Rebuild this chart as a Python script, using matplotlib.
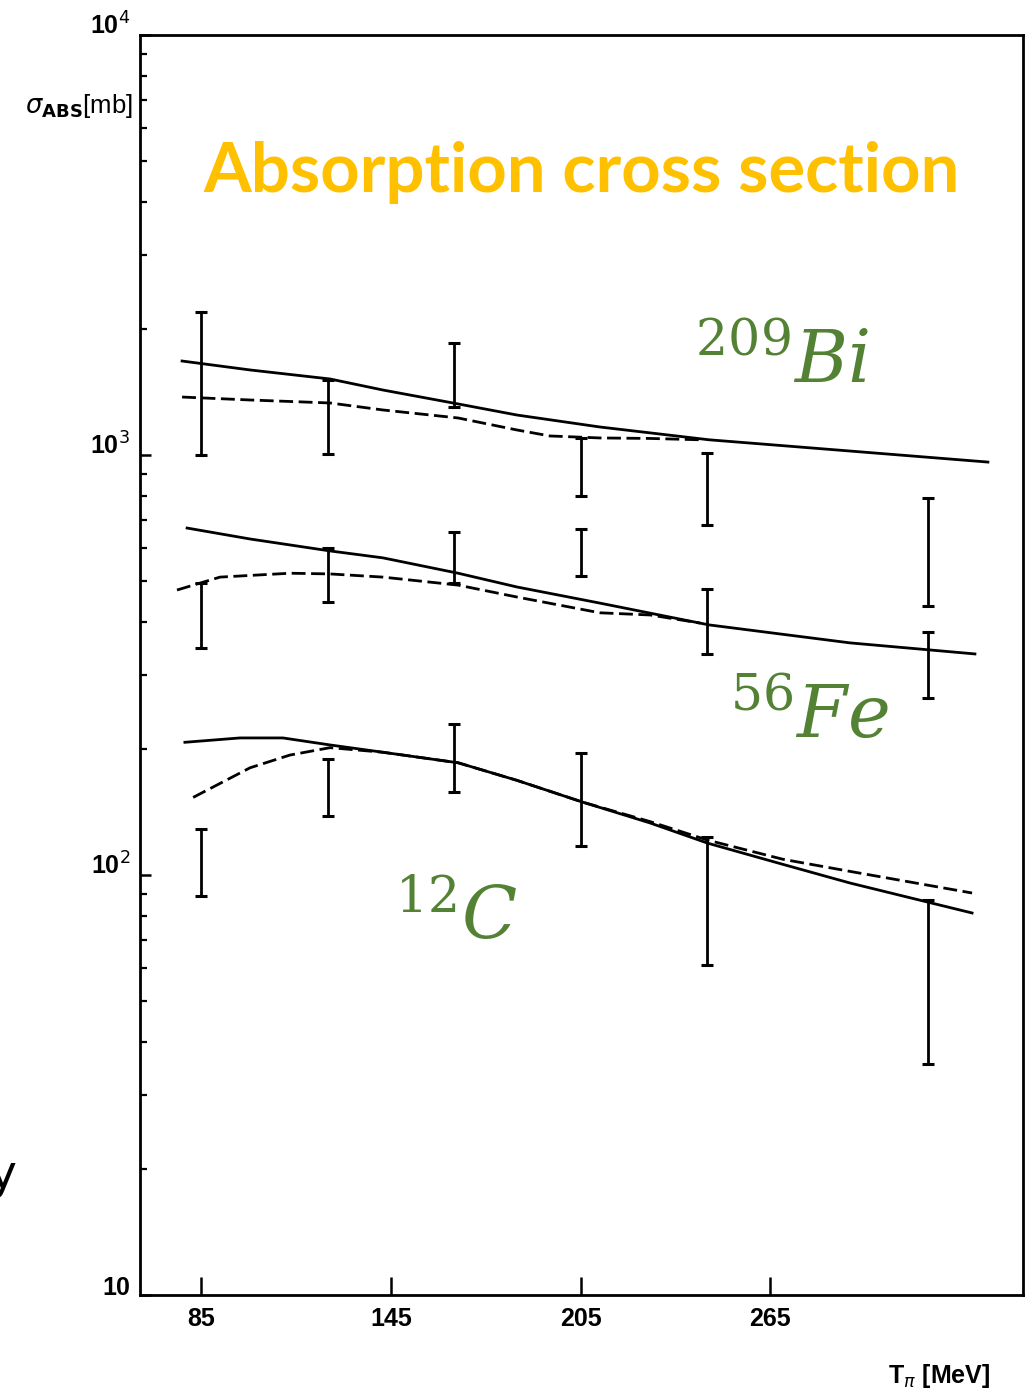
import matplotlib
matplotlib.use("Agg")

import matplotlib.pyplot as plt
import numpy as np

# Pion absorption cross sections (mb) vs. pion kinetic energy (MeV)
energies = [85, 125, 165, 205, 245, 315]

bi_hi = [2190, 1510, 1850, 1100, 1010, 790]
bi_lo = [1000, 1005, 1300, 800, 680, 437]
fe_hi = [495, 600, 655, 667, 480, 379]
fe_lo = [347, 447, 495, 515, 336, 264]
c_hi = [129, 189, 229, 195, 123, 87]
c_lo = [89, 138, 158, 117, 61, 35.5]

# Model curves (solid = full calculation, dashed = alternative)
bi_fit_x = [79, 100.5, 125.8, 142.5, 166.3, 184.9, 211.1, 245.6, 290.2, 333.8]
bi_fit = [1674, 1594, 1517, 1428, 1323, 1245, 1166, 1087, 1022, 962]
bi_dash_x = [79, 100.5, 125.8, 142.5, 166.3, 184.9, 195.3, 211.1, 227.0, 242.8]
bi_dash = [1374, 1352, 1330, 1280, 1225, 1147, 1110, 1098, 1095, 1087]

fe_fit_x = [80.6, 100.5, 125.8, 142.5, 166.3, 184.9, 211.1, 245.6, 290.2, 329.7]
fe_fit = [670, 631, 591, 569, 523, 485, 444, 394, 357, 336]
fe_dash_x = [77.4, 91.0, 113.1, 125.8, 142.5, 166.3, 184.9, 211.1, 227.0, 242.8]
fe_dash = [477, 512, 523, 521, 512, 490, 459, 421, 416, 398]

c_fit_x = [79.9, 97.3, 110.9, 125.8, 142.5, 166.3, 184.9, 205.8, 227.0, 245.3,
           269.0, 290.2, 328.8]
c_fit = [207, 212, 212, 204, 196, 185, 168, 149, 133, 119, 106, 95.7, 81.2]
c_dash_x = [82.5, 100.5, 113.1, 125.8, 142.5, 166.3, 184.9, 205.8, 227.0, 245.3,
            269.0, 290.2, 328.8]
c_dash = [153, 180, 193, 201, 196, 185, 168, 149, 134, 121, 109, 102, 90.6]

x_ticks = [85, 145, 205, 265]
y_ticks = [10, 100, 1000, 10000]
y_tick_labels = ["10", "10$^2$", "10$^3$", "10$^4$"]

W, H = 1035, 1389
fig = plt.figure(figsize=(W / 100, H / 100), dpi=100)
ax = fig.add_axes([140 / W, 1 - 1295 / H, 883 / W, 1260 / H])

ax.set_yscale("log")
ax.set_xlim(65.7, 344.9)
ax.set_ylim(10, 10000)

lw = 2.0
for fx, fy, dx, dy in [
    (bi_fit_x, bi_fit, bi_dash_x, bi_dash),
    (fe_fit_x, fe_fit, fe_dash_x, fe_dash),
    (c_fit_x, c_fit, c_dash_x, c_dash),
]:
    ax.plot(fx, fy, color="black", lw=lw, solid_joinstyle="round")
    ax.plot(dx, dy, color="black", lw=lw, linestyle=(0, (5, 2)))

for lo, hi in [(bi_lo, bi_hi), (fe_lo, fe_hi), (c_lo, c_hi)]:
    lo = np.array(lo, dtype=float)
    hi = np.array(hi, dtype=float)
    mid = np.sqrt(lo * hi)
    ax.errorbar(energies, mid, yerr=[mid - lo, hi - mid], fmt="none",
                ecolor="black", elinewidth=2.0, capsize=4.5, capthick=2.2)

# Axes frame and ticks
for side in ["left", "right", "top", "bottom"]:
    ax.spines[side].set_linewidth(2.0)
ax.set_xticks(x_ticks)
ax.set_xticklabels([str(v) for v in x_ticks], fontsize=18, weight="bold",
                   family="Liberation Sans")
ax.tick_params(axis="x", direction="in", length=13, width=1.8, pad=9)
ax.set_yticks(y_ticks)
ax.set_yticklabels(y_tick_labels, fontsize=18, weight="bold",
                   family="Liberation Sans")
ax.yaxis.set_minor_locator(matplotlib.ticker.LogLocator(base=10, subs=np.arange(2, 10)))
ax.yaxis.set_minor_formatter(matplotlib.ticker.NullFormatter())
ax.tick_params(axis="y", which="major", direction="in", length=8, width=1.8, pad=7)
ax.tick_params(axis="y", which="minor", direction="in", length=5, width=1.6)
for lbl in ax.get_yticklabels():
    lbl.set_verticalalignment("baseline")

# Axis labels
fig.text(25 / W, 1 - 113 / H, r"$\sigma_{\mathbf{ABS}}$[mb]", fontsize=18.5,
         family="Liberation Sans", ha="left", va="baseline")
fig.text(990 / W, 1 - 1383 / H, r"T$_{\pi}$ [MeV]", fontsize=18,
         family="Liberation Sans", weight="bold", ha="right", va="baseline")

# Title and nucleus labels
fig.text(582 / W, 1 - 192 / H, "Absorption cross section", fontsize=49.5,
         family="Lato", weight="bold", color="#FFC000",
         ha="center", va="baseline")

plt.rcParams["mathtext.fontset"] = "dejavuserif"
green = "#548235"
fig.text(695 / W, 1 - 383 / H, r"${}^{209}Bi$", fontsize=52, color=green,
         ha="left", va="baseline")
fig.text(730 / W, 1 - 738 / H, r"${}^{56}Fe$", fontsize=52, color=green,
         ha="left", va="baseline")
fig.text(395 / W, 1 - 940 / H, r"${}^{12}C$", fontsize=52, color=green,
         ha="left", va="baseline")

# Fragment of text cut off at the left edge
fig.text(17 / W, 1 - 1188 / H, "y", fontsize=34, family="DejaVu Sans",
         ha="right", va="baseline")

fig.savefig("out.png", dpi=100)
